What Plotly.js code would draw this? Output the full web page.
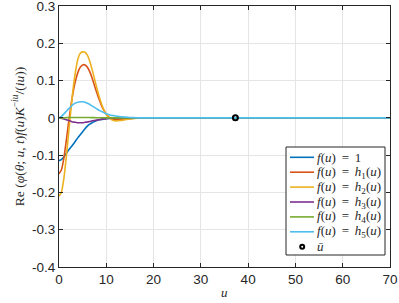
<!DOCTYPE html>
<html>
<head>
<meta charset="utf-8">
<script src="https://cdn.plot.ly/plotly-3.0.1.min.js"></script>
<style>
  html, body { margin: 0; padding: 0; background: white; }
  #chart { width: 399px; height: 303px; }
</style>
</head>
<body>
<div id="chart"></div>
<script>
// sample points along u
const u = [0, 0.5, 1, 1.5, 2, 2.5, 3, 3.5, 4, 4.5, 5, 5.5, 6, 6.5, 7, 7.5, 8, 8.5, 9, 9.5,
  10, 10.5, 11, 11.5, 12, 13, 14, 15, 16, 17, 18, 19, 20, 70];

const fOne = [-0.115, -0.112, -0.105, -0.096, -0.087, -0.079, -0.071, -0.062, -0.053, -0.045,
  -0.037, -0.029, -0.022, -0.017, -0.013, -0.010, -0.007, -0.005, -0.004, -0.003,
  -0.002, -0.0015, -0.001, -0.0005, 0, 0, 0, 0, 0, 0, 0, 0, 0, 0];

const h1 = [-0.150, -0.140, -0.110, -0.065, -0.015, 0.030, 0.070, 0.100, 0.122, 0.136,
  0.142, 0.142, 0.136, 0.124, 0.107, 0.087, 0.067, 0.049, 0.033, 0.020,
  0.010, 0.003, -0.002, -0.004, -0.005, -0.004, -0.003, -0.002, -0.001, 0, 0, 0, 0, 0];

const h2 = [-0.210, -0.200, -0.165, -0.110, -0.045, 0.020, 0.080, 0.125, 0.158, 0.173,
  0.177, 0.176, 0.168, 0.152, 0.130, 0.105, 0.080, 0.057, 0.037, 0.021,
  0.009, 0.001, -0.004, -0.007, -0.008, -0.007, -0.005, -0.003, -0.0015, -0.0005, 0, 0, 0, 0];

const h3 = [0, -0.001, -0.003, -0.005, -0.007, -0.009, -0.011, -0.012, -0.013, -0.013,
  -0.013, -0.012, -0.011, -0.010, -0.008, -0.007, -0.006, -0.005, -0.004, -0.003,
  -0.002, -0.0015, -0.001, -0.0007, -0.0005, -0.0002, 0, 0, 0, 0, 0, 0, 0, 0];

const h4 = [0, 0, 0, 0.0005, 0.001, 0.001, 0.001, 0.001, 0.001, 0.001,
  0.001, 0.001, 0.001, 0.0008, 0.0006, 0.0005, 0.0004, 0.0003, 0.0002, 0.0001,
  0, 0, 0, 0, 0, 0, 0, 0, 0, 0, 0, 0, 0, 0];

const h5 = [0, 0.004, 0.010, 0.017, 0.024, 0.030, 0.036, 0.040, 0.042, 0.043,
  0.043, 0.042, 0.039, 0.036, 0.032, 0.028, 0.024, 0.020, 0.017, 0.014,
  0.011, 0.009, 0.007, 0.006, 0.005, 0.003, 0.002, 0.001, 0.0005, 0, 0, 0, 0, 0];

const uBar = [37.3];
const uBarY = [0];

const eq = "\u2009=\u2009";
const seriesNames = [
  "<i>f</i>(<i>u</i>) " + eq + " 1",
  "<i>f</i>(<i>u</i>) " + eq + " <i>h</i><sub>1</sub>(<i>u</i>)",
  "<i>f</i>(<i>u</i>) " + eq + " <i>h</i><sub>2</sub>(<i>u</i>)",
  "<i>f</i>(<i>u</i>) " + eq + " <i>h</i><sub>3</sub>(<i>u</i>)",
  "<i>f</i>(<i>u</i>) " + eq + " <i>h</i><sub>4</sub>(<i>u</i>)",
  "<i>f</i>(<i>u</i>) " + eq + " <i>h</i><sub>5</sub>(<i>u</i>)"
];
const markerName = "<i>ū</i>";
const colors = ["#0072BD", "#D95319", "#EDB120", "#7E2F8E", "#77AC30", "#4DBEEE"];
const seriesY = [fOne, h1, h2, h3, h4, h5];

const yTicks = [-0.4, -0.3, -0.2, -0.1, 0, 0.1, 0.2, 0.3];
const yTickText = ["-0.4", "-0.3", "-0.2", "-0.1", "0", "0.1", "0.2", "0.3"];
const xTicks = [0, 10, 20, 30, 40, 50, 60, 70];

// plot area geometry (px) for the hand-made legend box
const M = { l: 59, r: 9, t: 6, b: 36 };
const PW = 399 - M.l - M.r, PH = 303 - M.t - M.b;
const px = x => (x - M.l) / PW;
const py = y => (303 - M.b - y) / PH;

const traces = seriesY.map((ys, i) => ({
  x: u, y: ys,
  type: "scatter", mode: "lines",
  name: seriesNames[i], showlegend: false,
  line: { color: colors[i], width: 1.6, shape: "spline", smoothing: 0.6 }
}));

traces.push({
  x: uBar, y: uBarY,
  type: "scatter", mode: "markers",
  name: markerName, showlegend: false,
  marker: { symbol: "circle-open", size: 5, color: "black", line: { width: 2, color: "black" } }
});

const textFont = { family: "Liberation Serif, DejaVu Serif, serif", size: 13, color: "#262626" };

// legend
const shapes = [{
  type: "rect", xref: "paper", yref: "paper",
  x0: px(286), x1: px(385), y0: py(255), y1: py(147),
  fillcolor: "white", line: { color: "#262626", width: 1 }, layer: "above"
}];
const annotations = [];
const rowY = i => 157.3 + i * 14.9;
seriesNames.forEach((name, i) => {
  shapes.push({
    type: "line", xref: "paper", yref: "paper",
    x0: px(290), x1: px(314), y0: py(rowY(i)), y1: py(rowY(i)),
    line: { color: colors[i], width: 1.6 }, layer: "above"
  });
  annotations.push({
    xref: "paper", yref: "paper", x: px(315), y: py(rowY(i)),
    xanchor: "left", yanchor: "middle", showarrow: false, text: name,
    font: textFont
  });
});
shapes.push({
  type: "circle", xref: "paper", yref: "paper",
  x0: px(300.2), x1: px(304.2), y0: py(rowY(6) - 2), y1: py(rowY(6) + 2),
  line: { color: "black", width: 2 }, layer: "above"
});
annotations.push({
  xref: "paper", yref: "paper", x: px(315), y: py(rowY(6)),
  xanchor: "left", yanchor: "middle", showarrow: false, text: markerName,
  font: textFont
});

// x axis title, placed by hand to sit closer to the tick labels
annotations.push({
  xref: "paper", yref: "paper", x: 0.5, y: py(292),
  xanchor: "center", yanchor: "middle", showarrow: false, text: "<i>u</i>",
  font: textFont
});

const axisCommon = {
  showline: true, mirror: "ticks",
  linecolor: "#262626", linewidth: 1,
  ticks: "inside", ticklen: 4, tickcolor: "#262626",
  showgrid: true, gridcolor: "#e5e5e5", gridwidth: 1,
  zeroline: false, ticklabeloverflow: "allow",
  tickfont: { family: "Liberation Sans, Arial, sans-serif", size: 13.5, color: "#262626" }
};

const layout = {
  width: 399, height: 303,
  margin: M,
  paper_bgcolor: "white", plot_bgcolor: "white",
  showlegend: false,
  shapes, annotations,
  xaxis: Object.assign({}, axisCommon, {
    range: [0, 70], tickvals: xTicks
  }),
  yaxis: Object.assign({}, axisCommon, {
    range: [-0.4, 0.3], tickvals: yTicks, ticktext: yTickText,
    title: {
      text: "Re (<i>φ</i>(<i>θ</i>; <i>u</i>, <i>t</i>)<i>f</i>(<i>u</i>)<i>K</i><sup>−<i>iu</i></sup>/(<i>iu</i>))",
      font: { family: "Liberation Serif, serif", size: 13.5, color: "#262626" },
      standoff: 4
    }
  })
};

Plotly.newPlot("chart", traces, layout, { staticPlot: true });
</script>
</body>
</html>
